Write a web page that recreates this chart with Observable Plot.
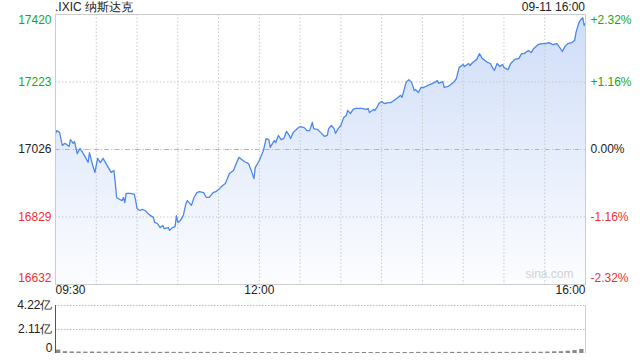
<!DOCTYPE html>
<html>
<head>
<meta charset="utf-8">
<script src="https://cdn.jsdelivr.net/npm/d3@7"></script>
<script src="https://cdn.jsdelivr.net/npm/@observablehq/plot@0.6"></script>
<style>
  body { margin: 0; background: #fff; }
  #wrap { position: relative; width: 640px; height: 360px; font-family: "Liberation Sans", Arial, sans-serif; font-size: 12px; color: #222; overflow: hidden; }
  #title { position: absolute; left: 55px; top: 0px; line-height: 14px; }
  #stamp { position: absolute; right: 55px; top: 0px; line-height: 14px; }
  #main { position: absolute; left: 0; top: 0; }
  #vol { position: absolute; left: 0; top: 300px; }
</style>
</head>
<body>
<div id="wrap">
  <div id="main"></div>
  <div id="vol"></div>
  <div id="title">.IXIC 纳斯达克</div>
  <div id="stamp">09-11 16:00</div>
</div>
<script>
// ---- data ----
const prevClose = 17026;
// minutes since 09:30
const times = [0,1,3,5,7,10,11,13,14,16,18,20,22,24,25,27,29,31,33,35,38,41,43,44,45,46,49,50,51,52,55,58,59,60,62,64,66,68,70,72,73,75,77,79,80,83,84,86,88,89,90,92,94,96,97,100,102,104,106,109,111,113,116,118,120,123,125,128,131,133,135,137,139,142,144,146,147,150,153,155,157,158,161,162,164,166,168,170,172,173,175,178,180,183,185,187,189,190,193,195,198,200,201,203,205,206,208,210,212,214,215,217,219,221,225,229,230,231,234,235,237,238,240,242,245,247,249,252,254,255,257,258,260,262,264,265,267,269,271,274,276,279,281,282,285,286,289,293,295,297,300,301,304,305,307,310,312,314,316,318,320,322,323,325,327,329,330,333,335,338,341,343,345,348,350,352,355,358,361,363,366,369,371,373,375,377,380,382,383,385,386,388,389,390];
const prices = [17073,17081,17076,17038,17044,17035,17055,17044,17049,17014,17029,17017,17003,16988,17017,16985,16959,17000,16988,17000,16979,16959,16965,16927,16886,16883,16877,16886,16871,16898,16898,16895,16877,16854,16848,16851,16848,16839,16833,16828,16813,16810,16798,16804,16795,16798,16790,16798,16801,16833,16813,16819,16833,16868,16877,16863,16886,16900,16903,16900,16886,16886,16900,16903,16909,16921,16927,16956,16965,16985,17003,16997,16991,16985,16965,16941,16973,16994,17023,17058,17055,17032,17052,17046,17067,17055,17058,17079,17067,17058,17076,17087,17093,17090,17081,17081,17105,17087,17084,17076,17064,17067,17087,17096,17087,17073,17087,17096,17119,17125,17140,17131,17143,17146,17146,17143,17146,17134,17143,17140,17152,17160,17166,17160,17163,17163,17169,17178,17184,17178,17207,17222,17230,17222,17198,17201,17192,17207,17207,17213,17216,17222,17227,17219,17224,17207,17210,17222,17233,17265,17274,17268,17277,17271,17280,17289,17306,17292,17286,17280,17277,17262,17257,17277,17268,17274,17265,17259,17277,17289,17292,17306,17306,17315,17309,17321,17332,17335,17335,17338,17332,17335,17324,17312,17327,17335,17338,17344,17367,17394,17402,17411,17388,17394];
// volume per 5-minute bucket, in 亿
const volumes = [0.30,0.16,0.14,0.13,0.12,0.13,0.12,0.12,0.12,0.12,0.11,0.11,0.11,0.11,0.11,0.10,0.11,0.10,0.10,0.10,0.10,0.10,0.10,0.09,0.10,0.09,0.09,0.09,0.09,0.09,0.09,0.09,0.09,0.09,0.09,0.09,0.09,0.09,0.09,0.09,0.09,0.09,0.09,0.09,0.09,0.09,0.09,0.09,0.09,0.09,0.09,0.09,0.09,0.10,0.10,0.10,0.10,0.10,0.10,0.10,0.10,0.10,0.10,0.10,0.10,0.10,0.10,0.10,0.10,0.11,0.11,0.11,0.13,0.15,0.16,0.20,0.26,0.35];
const priceTicks = [17420, 17223, 17026, 16829, 16632];
const pctLabels = ["+2.32%", "+1.16%", "0.00%", "-1.16%", "-2.32%"];
const tickColors = ["#1aa81a", "#1aa81a", "#222", "#f03030", "#f03030"];
const timeTicks = [0, 150, 390];
const timeLabels = ["09:30", "12:00", "16:00"];
const volTicks = [4.22, 2.11, 0];
const volLabels = ["4.22亿", "2.11亿", "0"];

const rows = times.map((t, i) => ({t, p: prices[i]}));
const vrows = volumes.map((v, i) => ({t0: i * 5, t1: i * 5 + 5, v}));
const yTicks = priceTicks.map((p, i) => ({p, pct: pctLabels[i], c: tickColors[i], i}));

const gradient = () => {
  const ns = "http://www.w3.org/2000/svg";
  const defs = document.createElementNS(ns, "defs");
  const lg = document.createElementNS(ns, "linearGradient");
  lg.setAttribute("id", "areaGrad");
  lg.setAttribute("x1", "0"); lg.setAttribute("y1", "0");
  lg.setAttribute("x2", "0"); lg.setAttribute("y2", "1");
  [["0", "#cfddf8"], ["1", "#fcfdff"]].forEach(([o, c]) => {
    const s = document.createElementNS(ns, "stop");
    s.setAttribute("offset", o); s.setAttribute("stop-color", c);
    lg.appendChild(s);
  });
  defs.appendChild(lg);
  return defs;
};

const font = {fontFamily: "Liberation Sans, Arial, sans-serif", fontSize: "12px", background: "transparent", overflow: "visible"};

const top1 = yTicks.filter(d => d.i === 0);
const mid = yTicks.filter(d => d.i > 0 && d.i < 4);
const bot = yTicks.filter(d => d.i === 4);

const main = Plot.plot({
  width: 640, height: 300,
  marginTop: 14, marginBottom: 16, marginLeft: 55, marginRight: 55,
  style: font,
  x: {domain: [0, 390], axis: null},
  y: {domain: [16632, 17420], axis: null},
  color: {type: "identity"},
  marks: [
    gradient,
    Plot.areaY(rows, {x: "t", y1: 16632, y2: "p", fill: "url(#areaGrad)"}),
    Plot.ruleX(d3.range(30, 390, 30), {stroke: "#c8c8c8", strokeDasharray: "1.5,2"}),
    Plot.ruleY([17223, 16829, 17026], {stroke: "#c8c8c8", strokeDasharray: "1.5,2"}),
    Plot.ruleY([prevClose], {stroke: "#f0a070", strokeDasharray: "4,6"}),
    Plot.line(rows, {x: "t", y: "p", stroke: "#4d88ec", strokeWidth: 1.3}),
    Plot.frame({stroke: "#cccccc"}),
    Plot.text(top1, {y: "p", text: d => String(d.p), fill: "c", frameAnchor: "left", textAnchor: "end", dx: -4, dy: 6}),
    Plot.text(mid, {y: "p", text: d => String(d.p), fill: "c", frameAnchor: "left", textAnchor: "end", dx: -4}),
    Plot.text(bot, {y: "p", text: d => String(d.p), fill: "c", frameAnchor: "left", textAnchor: "end", dx: -4, dy: -6}),
    Plot.text(top1, {y: "p", text: "pct", fill: "c", frameAnchor: "right", textAnchor: "start", dx: 5, dy: 6}),
    Plot.text(mid, {y: "p", text: "pct", fill: "c", frameAnchor: "right", textAnchor: "start", dx: 5}),
    Plot.text(bot, {y: "p", text: "pct", fill: "c", frameAnchor: "right", textAnchor: "start", dx: 5, dy: -6}),
    Plot.text([timeTicks[0]], {x: d => d, text: [timeLabels[0]], frameAnchor: "bottom", textAnchor: "start", dy: 9, fill: "#222"}),
    Plot.text([timeTicks[1]], {x: d => d, text: [timeLabels[1]], frameAnchor: "bottom", textAnchor: "middle", dy: 9, fill: "#222"}),
    Plot.text([timeTicks[2]], {x: d => d, text: [timeLabels[2]], frameAnchor: "bottom", textAnchor: "end", dy: 9, fill: "#222"}),
    Plot.text(["sina.com"], {text: d => d, frameAnchor: "bottom-right", textAnchor: "end", dx: -12, dy: -7, fill: "#d2d2d2", fontSize: 12})
  ]
});
document.getElementById("main").appendChild(main);

const vol = Plot.plot({
  width: 640, height: 60,
  marginTop: 5, marginBottom: 7, marginLeft: 55, marginRight: 55,
  style: font,
  x: {domain: [0, 390], axis: null},
  y: {domain: [0, 4.22], axis: null},
  marks: [
    Plot.ruleY([4.22, 2.11], {stroke: "#bbbbbb", strokeDasharray: "1.5,1.5"}),
    Plot.rectY(vrows, {x1: "t0", x2: "t1", y: "v", fill: "#888", insetLeft: 1, insetRight: 1.5}),
    Plot.ruleX([0], {stroke: "#555"}),
    Plot.ruleX([390], {stroke: "#cccccc"}),
    Plot.text(volTicks.slice(0, 2), {y: d => d, text: volLabels.slice(0, 2), frameAnchor: "left", textAnchor: "end", dx: -3, fill: "#222"}),
    Plot.text([volTicks[2]], {y: d => d, text: [volLabels[2]], frameAnchor: "left", textAnchor: "end", dx: -3, dy: -5, fill: "#222"})
  ]
});
document.getElementById("vol").appendChild(vol);
</script>
</body>
</html>
